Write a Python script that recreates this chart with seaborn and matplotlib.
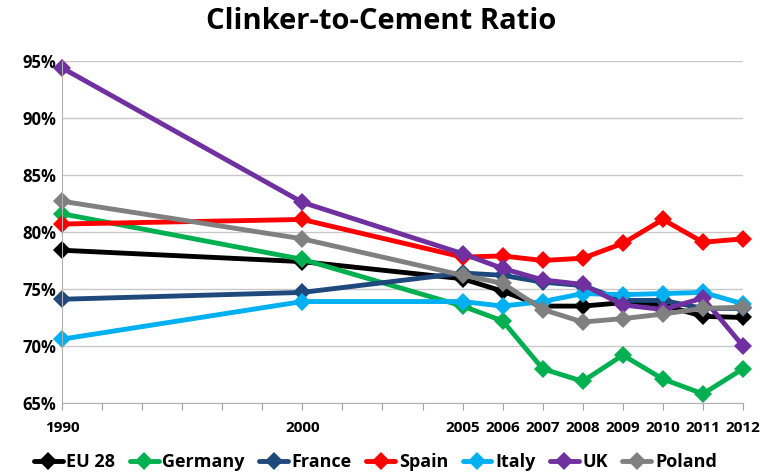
import numpy as np
import pandas as pd
import seaborn as sns
import matplotlib.pyplot as plt

# category axis as in the original: blank slots between 1990, 2000 and 2005
axis_labels = ['1990', '', '', '', '', '', '2000', '', '', '',
               '2005', '2006', '2007', '2008', '2009', '2010', '2011', '2012']
years = ['1990', '2000', '2005', '2006', '2007', '2008', '2009', '2010', '2011', '2012']

eu28 = [78.4, 77.4, 75.9, 74.8, 73.5, 73.5, 73.8, 73.6, 72.6, 72.5]
germany = [81.6, 77.6, 73.5, 72.2, 68.0, 66.9, 69.2, 67.1, 65.8, 68.0]
france = [74.1, 74.7, 76.4, 76.2, 75.6, 75.3, 74.0, 74.0, 73.3, 73.3]
spain = [80.7, 81.1, 77.8, 77.9, 77.5, 77.7, 79.0, 81.1, 79.1, 79.4]
italy = [70.6, 73.9, 73.9, 73.5, 73.9, 74.6, 74.5, 74.6, 74.7, 73.7]
uk = [94.4, 82.6, 78.1, 76.8, 75.8, 75.4, 73.6, 73.2, 74.2, 70.0]
poland = [82.7, 79.4, 76.2, 75.5, 73.2, 72.1, 72.4, 72.8, 73.3, 73.4]

series = {'EU 28': eu28, 'Germany': germany, 'France': france, 'Spain': spain,
          'Italy': italy, 'UK': uk, 'Poland': poland}
colors = ['#000000', '#00B050', '#1F497D', '#FF0000', '#00B0F0', '#7030A0', '#808080']

rows = []
for name, vals in series.items():
    for yr, v in zip(years, vals):
        rows.append({'pos': axis_labels.index(yr), 'value': v, 'country': name})
df = pd.DataFrame(rows)

sns.set_style('white')
plt.rcParams['font.family'] = ['Open Sans', 'DejaVu Sans']
plt.rcParams['text.color'] = 'black'
plt.rcParams['xtick.labelcolor'] = 'black'
plt.rcParams['ytick.labelcolor'] = 'black'

fig = plt.figure(figsize=(7.63, 4.76), dpi=100)
ax = fig.add_axes([0.0813, 0.1534, 0.8925, 0.7184])

sns.lineplot(data=df, x='pos', y='value', hue='country', palette=colors,
             marker='D', markersize=9, markeredgewidth=0, linewidth=3.5,
             ax=ax, legend=True, clip_on=False)

ax.set_xlim(0, len(axis_labels) - 1)
ax.set_ylim(65, 95)
ax.set_yticks(np.arange(65, 96, 5))
ax.set_yticklabels([f'{v}%' for v in range(65, 96, 5)], fontsize=12, fontweight='bold')
ax.set_xticks(range(len(axis_labels)))
ax.set_xticklabels(axis_labels, fontsize=11, fontweight='bold')
ax.tick_params(axis='x', length=5, color='#a0a0a0', direction='out', pad=8, bottom=True)
ax.tick_params(axis='y', length=0, pad=4)
ax.grid(axis='y', color='#c8c8c8', linewidth=1)
ax.set_axisbelow(True)
ax.set_xlabel('')
ax.set_ylabel('')
for s in ['top', 'right']:
    ax.spines[s].set_visible(False)
ax.spines['left'].set_color('#b0b0b0')
ax.spines['bottom'].set_color('#b0b0b0')

fig.suptitle('Clinker-to-Cement Ratio', x=0.5, y=0.985, fontsize=21,
             fontweight='bold', color='black')

handles, labels = ax.get_legend_handles_labels()
ax.legend(handles, labels, loc='upper center', bbox_to_anchor=(0.46, -0.1),
          ncol=7, frameon=False, handlelength=1.6, handletextpad=0.2,
          columnspacing=0.8, prop={'size': 13, 'weight': 'bold'})

fig.savefig('out.png', dpi=100)
